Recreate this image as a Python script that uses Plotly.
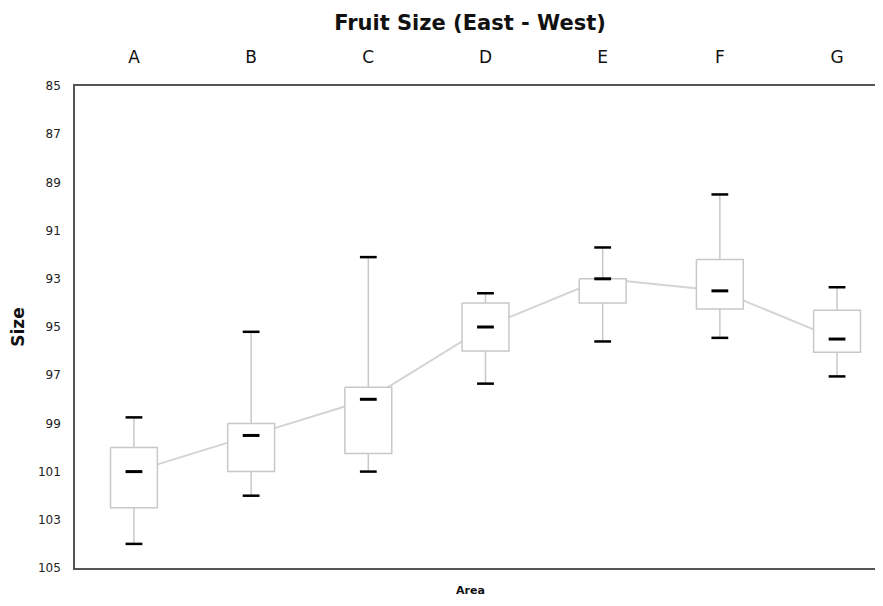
import plotly.graph_objects as go

categories = ["A", "B", "C", "D", "E", "F", "G"]
q1 = [100.0, 99.0, 97.5, 94.0, 93.0, 92.2, 94.3]
median = [101.0, 99.5, 98.0, 95.0, 93.0, 93.5, 95.5]
q3 = [102.5, 101.0, 100.25, 96.0, 94.0, 94.25, 96.05]
whisk_low = [98.75, 95.2, 92.1, 93.6, 91.7, 89.5, 93.35]   # upper end on the chart (reversed axis)
whisk_high = [104.0, 102.0, 101.0, 97.35, 95.6, 95.45, 97.05]
y_ticks = [85, 87, 89, 91, 93, 95, 97, 99, 101, 103, 105]

idx = list(range(len(categories)))
hw = 0.2
GRAY = "#c8c8c8"
FONT = "DejaVu Sans, Liberation Sans, Arial"

# page has an 8px body margin: figure pixels = page pixels - 8
W, H = 867, 590
L, T, B = 67, 78, 30

fig = go.Figure()

# line connecting medians (drawn first, so boxes cover it)
fig.add_trace(go.Scatter(x=idx, y=median, mode="lines",
                         line=dict(color="#d4d4d4", width=2), hoverinfo="skip"))

# whiskers
wx, wy = [], []
for i in idx:
    wx += [i, i, None, i, i, None]
    wy += [whisk_low[i], q1[i], None, q3[i], whisk_high[i], None]
fig.add_trace(go.Scatter(x=wx, y=wy, mode="lines",
                         line=dict(color=GRAY, width=1.5), hoverinfo="skip"))

# boxes
bx, by = [], []
for i in idx:
    bx += [i - hw, i + hw, i + hw, i - hw, i - hw, None]
    by += [q1[i], q1[i], q3[i], q3[i], q1[i], None]
fig.add_trace(go.Scatter(x=bx, y=by, mode="lines", fill="toself",
                         fillcolor="white", line=dict(color=GRAY, width=1.5),
                         hoverinfo="skip"))

# whisker caps
fig.add_trace(go.Scatter(x=idx + idx, y=whisk_low + whisk_high, mode="markers",
                         marker=dict(symbol="line-ew", size=12,
                                     line=dict(color="black", width=2.5)),
                         hoverinfo="skip"))
# medians
fig.add_trace(go.Scatter(x=idx, y=median, mode="markers",
                         marker=dict(symbol="line-ew", size=12,
                                     line=dict(color="black", width=3)),
                         hoverinfo="skip"))

plot_h = H - T - B
fig.update_layout(
    template="none",
    width=W, height=H,
    margin=dict(l=L, r=0, t=T, b=B, autoexpand=False),
    paper_bgcolor="white", plot_bgcolor="white",
    showlegend=False,
    font=dict(family=FONT, color="#222"),
    title=dict(text="<b>Fruit Size (East - West)</b>", x=462 / W, xref="container",
               xanchor="center", y=1 - 15 / H, yanchor="middle",
               font=dict(family=FONT, size=21, color="#111")),
    xaxis=dict(side="top", range=[-0.503, 6.324], tickmode="array", automargin=False,
               tickvals=idx, ticktext=categories, showgrid=False, zeroline=False,
               showline=True, mirror=True, linecolor="#555", linewidth=1.5,
               ticks="", ticklabelstandoff=14, tickfont=dict(family=FONT, size=17, color="#111")),
    yaxis=dict(range=[105, 85], tickmode="array", tickvals=y_ticks, automargin=False,
               showgrid=False, zeroline=False, showline=True, linecolor="#555",
               linewidth=1.5, ticks="", ticklabelstandoff=10,
               tickfont=dict(family=FONT, size=12, color="#222"),
               title=dict(text="<b>Size</b>", font=dict(family=FONT, size=17, color="#111"),
                          standoff=11)),
    annotations=[dict(text="<b>Area</b>", x=(462 - L) / (W - L), xref="paper",
                      y=-22 / plot_h, yref="paper", xanchor="center",
                      yanchor="middle", showarrow=False,
                      font=dict(family=FONT, size=11, color="#111"))],
)

fig.write_html("out.html")
